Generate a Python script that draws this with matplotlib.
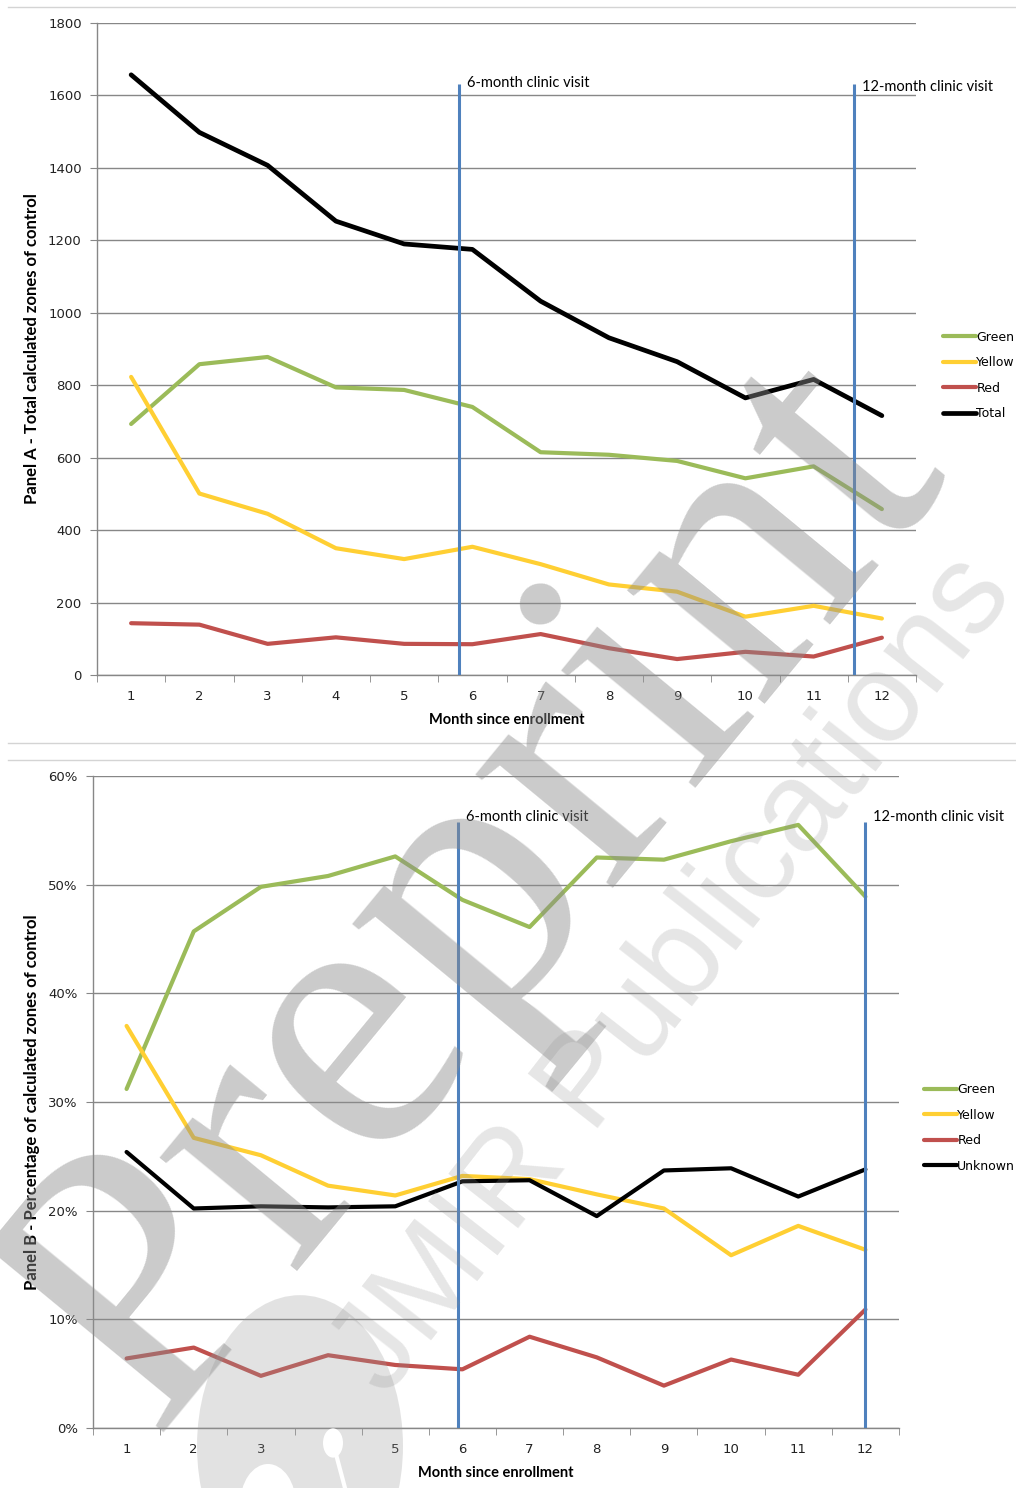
import numpy as np
import matplotlib
matplotlib.use("Agg")
import matplotlib.pyplot as plt
from matplotlib.patches import Circle
from matplotlib.lines import Line2D

months = list(range(1, 13))

# Panel A - counts
green_a = [693, 858, 878, 794, 787, 740, 615, 608, 591, 543, 576, 458]
yellow_a = [823, 501, 445, 350, 320, 354, 306, 250, 230, 161, 191, 156]
red_a = [143, 139, 86, 104, 86, 85, 113, 74, 44, 64, 51, 103]
total_a = [1657, 1498, 1407, 1253, 1190, 1175, 1032, 931, 865, 765, 816, 716]

# Panel B - percentages
green_b = [31.2, 45.7, 49.8, 50.8, 52.6, 48.6, 46.1, 52.5, 52.3, 54.0, 55.5, 48.9]
yellow_b = [37.0, 26.7, 25.1, 22.3, 21.4, 23.2, 22.9, 21.5, 20.2, 15.9, 18.6, 16.4]
red_b = [6.4, 7.4, 4.8, 6.7, 5.8, 5.4, 8.4, 6.5, 3.9, 6.3, 4.9, 10.9]
unknown_b = [25.4, 20.2, 20.4, 20.3, 20.4, 22.7, 22.8, 19.5, 23.7, 23.9, 21.3, 23.8]

visits_a = [5.8, 11.59]
visits_b = [5.93, 12.0]
visit_labels = ["6-month clinic visit", "12-month clinic visit"]

C_GREEN = "#9BBB59"
C_YELLOW = "#FFCF33"
C_RED = "#C0504D"
C_BLACK = "#000000"
C_BLUE = "#4F81BD"
C_GRID = "#878787"

W, H = 1016, 1488
fig = plt.figure(figsize=(W / 100, H / 100), dpi=100)


def box(l, t, r, b):
    return [l / W, 1 - b / H, (r - l) / W, (b - t) / H]


def style_axes(ax, ymax, ystep, fmt):
    ax.set_xlim(0.5, 12.5)
    ax.set_ylim(0, ymax)
    ax.set_yticks(np.arange(0, ymax + ystep / 2, ystep))
    ax.yaxis.set_major_formatter(fmt)
    ax.set_xticks(months)
    ax.set_xticks(np.arange(0.5, 13, 1), minor=True)
    ax.tick_params(axis="x", which="major", length=0, pad=11, labelsize=9.5)
    ax.tick_params(axis="x", which="minor", length=5, color=C_GRID, direction="out")
    ax.tick_params(axis="y", length=5, color=C_GRID, direction="out", labelsize=9.5, pad=6)
    ax.grid(axis="y", color=C_GRID, lw=1.0)
    ax.set_axisbelow(True)
    for s in ["top", "right"]:
        ax.spines[s].set_visible(False)
    for s in ["left", "bottom"]:
        ax.spines[s].set_color(C_GRID)
        ax.spines[s].set_linewidth(1.0)
    for lab in ax.get_xticklabels() + ax.get_yticklabels():
        lab.set_family("DejaVu Sans")
        lab.set_color("#222222")


leg_kw = dict(loc="center left", frameon=False, handlelength=2.6, handletextpad=0.05,
              labelspacing=1.0, borderpad=0, prop={"family": "DejaVu Sans", "size": 9})

# ---------- Panel A ----------
ax1 = fig.add_axes(box(97, 23, 916, 675))
ax1.plot(months, green_a, color=C_GREEN, lw=3.0, solid_capstyle="round", label="Green")
ax1.plot(months, yellow_a, color=C_YELLOW, lw=3.0, solid_capstyle="round", label="Yellow")
ax1.plot(months, red_a, color=C_RED, lw=3.0, solid_capstyle="round", label="Red")
ax1.plot(months, total_a, color=C_BLACK, lw=3.4, solid_capstyle="round", label="Total")
style_axes(ax1, 1800, 200, matplotlib.ticker.FuncFormatter(lambda v, p: f"{v:.0f}"))
for xv, yv, lab in zip(visits_a, [1634, 1623], visit_labels):
    ax1.vlines(xv, 0, 1632, color=C_BLUE, lw=2.2, zorder=5)
    ax1.text(xv + 0.12, yv, lab, fontsize=10.5, family="Lato", va="center", ha="left")
ax1.set_xlabel("Month since enrollment", family="Lato", fontweight="bold", fontsize=10.5, labelpad=7)
ax1.set_ylabel("Panel A - Total calculated zones of control", family="Lato",
               fontweight="bold", fontsize=12)
ax1.yaxis.set_label_coords((40 - 97) / 819, 0.5)
fig.legend(handles=ax1.get_lines()[:4], bbox_to_anchor=(937 / W, 1 - 375.5 / H), **leg_kw)

# ---------- Panel B ----------
ax2 = fig.add_axes(box(93, 776, 899, 1428))
ax2.plot(months, green_b, color=C_GREEN, lw=3.0, solid_capstyle="round", label="Green")
ax2.plot(months, yellow_b, color=C_YELLOW, lw=3.0, solid_capstyle="round", label="Yellow")
ax2.plot(months, red_b, color=C_RED, lw=3.0, solid_capstyle="round", label="Red")
ax2.plot(months, unknown_b, color=C_BLACK, lw=3.0, solid_capstyle="round", label="Unknown")
style_axes(ax2, 60, 10, matplotlib.ticker.FuncFormatter(lambda v, p: f"{v:.0f}%"))
for xv, lab in zip(visits_b, visit_labels):
    ax2.vlines(xv, 0, 55.8, color=C_BLUE, lw=2.2, zorder=5)
    ax2.text(xv + 0.12, 56.2, lab, fontsize=10.5, family="Lato", va="center", ha="left")
ax2.set_xlabel("Month since enrollment", family="Lato", fontweight="bold", fontsize=10.5, labelpad=7)
ax2.set_ylabel("Panel B - Percentage of calculated zones of control", family="Lato",
               fontweight="bold", fontsize=12)
ax2.yaxis.set_label_coords((40 - 93) / 806, 0.5)
fig.legend(handles=ax2.get_lines()[:4], bbox_to_anchor=(918 / W, 1 - 1128 / H), **leg_kw)

# page separators
for yy in [7, 743, 760]:
    fig.add_artist(Line2D([8 / W, 1.0], [1 - yy / H, 1 - yy / H], color="#D4D4D4", lw=1.0))

# watermark
fig.add_artist(Circle((300 / W, 1 - 1446 / H), 103 / W, transform=fig.transFigure,
                      color="#9A9A9A", alpha=0.28, lw=0, zorder=20))
fig.add_artist(Circle((333 / W, 1 - 1443 / H), 10 / W, transform=fig.transFigure,
                      color="white", lw=0, zorder=21))
fig.add_artist(Line2D([333 / W, 345 / W], [1 - 1443 / H, 1 - 1488 / H], color="white", lw=3, zorder=21))
fig.add_artist(Circle((268 / W, 1 - 1505 / H), 28 / W, transform=fig.transFigure,
                      color="white", lw=0, zorder=21))
fig.text(478 / W, 1 - 892 / H, "Preprint", family="Liberation Serif", fontsize=280,
         color="#8C8C8C", alpha=0.45, rotation=50.5, ha="center", va="center",
         rotation_mode="anchor", zorder=20)
fig.text(675 / W, 1 - 975 / H, "JMIR Publications", family="Liberation Sans", fontsize=92,
         color="#8C8C8C", alpha=0.22, rotation=52, ha="center", va="center",
         rotation_mode="anchor", zorder=20)

fig.savefig("out.png", dpi=100)
